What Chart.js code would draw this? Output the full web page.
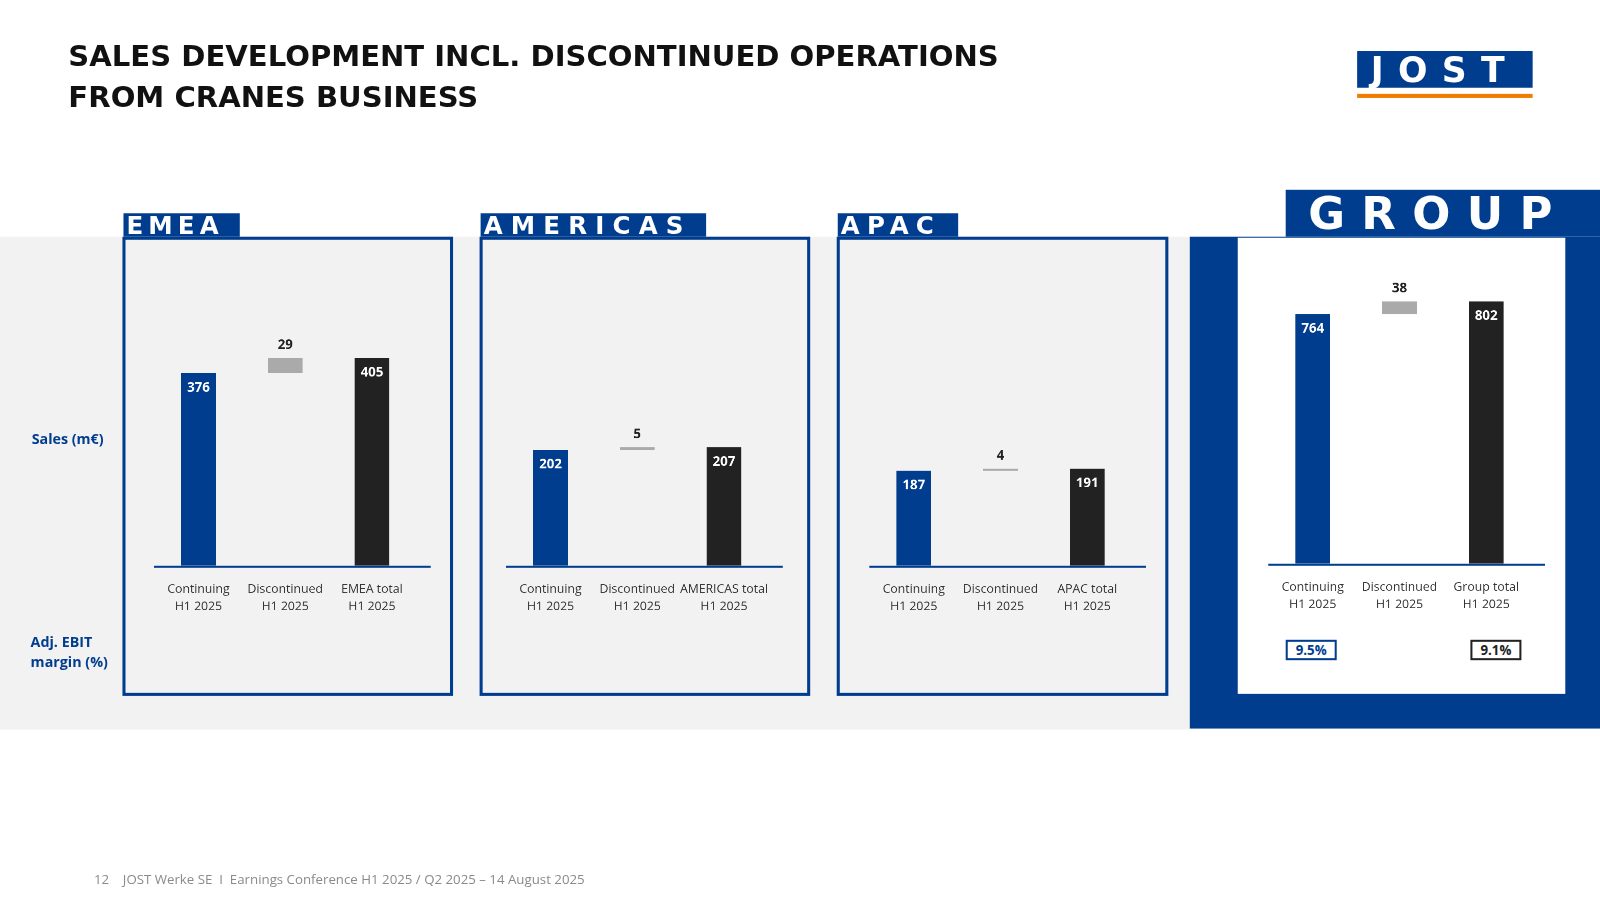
<!DOCTYPE html>
<html><head><meta charset="utf-8">
<script src="https://cdn.jsdelivr.net/npm/chart.js@4"></script>
<style>
body{margin:0;width:1600px;height:900px;background:#fff;font-family:"Open Sans",sans-serif;overflow:hidden}
#page{position:relative;width:1568px;height:882px;transform:scale(1.0204);transform-origin:0 0}
.abs{position:absolute}
h1{position:absolute;left:67px;top:36px;margin:0;font:bold 28.5px/40px "DejaVu Sans",sans-serif;color:#111}
.band{left:0;top:232px;width:1166px;height:483px;background:#f2f2f2}
.panel{border:3px solid #003d8f;background:#f2f2f2;box-sizing:border-box}
.hdr{background:#003d8f;color:#fff;font:900 24px/24px "DejaVu Sans",sans-serif;letter-spacing:5px;overflow:hidden;padding-left:3px;box-sizing:border-box}
.side{color:#003d8f;font:bold 14px/20px "Open Sans",sans-serif}
.ebit{font:bold 13px/16px "Open Sans",sans-serif;text-align:center;width:46px;height:16px;background:#fff}
</style></head><body><div id="page">
<h1>SALES DEVELOPMENT INCL. DISCONTINUED OPERATIONS<br>FROM CRANES BUSINESS</h1>
<div class="abs" style="left:1330px;top:50px;width:172px;height:36px;background:#003d8f;color:#fff;font:900 34px/36px 'DejaVu Sans';letter-spacing:14px;text-align:center">JOST</div>
<div class="abs" style="left:1330px;top:92px;width:172px;height:4px;background:#f07d00"></div>
<div class="abs band"></div>
<div class="abs" style="left:1166px;top:232px;width:402px;height:482px;background:#003d8f"></div>
<div class="abs" style="left:1213px;top:233px;width:321px;height:447px;background:#fff"></div>
<div class="abs hdr" style="left:121px;top:209px;width:114px;height:24px">EMEA</div>
<div class="abs hdr" style="left:471px;top:209px;width:221px;height:24px;letter-spacing:8px">AMERICAS</div>
<div class="abs hdr" style="left:821px;top:209px;width:118px;height:24px;letter-spacing:7px">APAC</div>
<div class="abs hdr" style="left:1260px;top:186px;width:308px;height:46px;font-size:44px;line-height:46px;padding-left:22px;letter-spacing:16px">GROUP</div>
<div class="abs panel" style="left:120px;top:232px;width:324px;height:450px"></div>
<div class="abs panel" style="left:470px;top:232px;width:324px;height:450px"></div>
<div class="abs panel" style="left:820px;top:232px;width:325px;height:450px"></div>
<div class="abs side" style="left:31px;top:420px">Sales (m€)</div>
<div class="abs side" style="left:30px;top:619px">Adj. EBIT<br>margin (%)</div>
<div class="abs ebit" style="left:1260px;top:627px;border:2px solid #003d8f;color:#003d8f">9.5%</div>
<div class="abs ebit" style="left:1441px;top:627px;border:2px solid #222;color:#222">9.1%</div>
<div class="abs" style="left:92px;top:852px;font:13px 'Open Sans';color:#8a8a8a">12&nbsp;&nbsp;&nbsp;&nbsp;JOST Werke SE&nbsp;&nbsp;I&nbsp;&nbsp;Earnings Conference H1 2025 / Q2 2025 – 14 August 2025</div>
<canvas id="c0" class="abs" style="left:130px;top:240px;width:300px;height:370px"></canvas>
<canvas id="c1" class="abs" style="left:475px;top:240px;width:300px;height:370px"></canvas>
<canvas id="c2" class="abs" style="left:831px;top:240px;width:300px;height:370px"></canvas>
<canvas id="c3" class="abs" style="left:1222px;top:240px;width:300px;height:368px"></canvas>
</div>
<script>
const regions = ["EMEA", "AMERICAS", "APAC", "Group"];
const continuing = [376, 202, 187, 764];
const discontinued = [29, 5, 4, 38];
const totals = [405, 207, 191, 802];
const scaleMax = [626, 560, 632, 975];

const labelPlugin = {
  id: "vals",
  afterDatasetsDraw(chart) {
    const ctx = chart.ctx;
    const meta = chart.getDatasetMeta(0);
    const raw = chart.data.datasets[0].data;
    const a = chart.chartArea;
    ctx.save();
    // axis line runs a bit past the last category
    ctx.strokeStyle = "#003d8f";
    ctx.lineWidth = 2;
    ctx.beginPath();
    ctx.moveTo(a.left - 1, a.bottom + 1);
    ctx.lineTo(a.right + 15, a.bottom + 1);
    ctx.stroke();
    ctx.font = "bold 13px 'Open Sans'";
    ctx.textAlign = "center";
    meta.data.forEach((bar, i) => {
      const v = raw[i];
      if (i === 1) {
        ctx.fillStyle = "#222";
        ctx.textBaseline = "bottom";
        ctx.fillText(v[1] - v[0], bar.x, bar.y - 6);
      } else {
        ctx.fillStyle = "#fff";
        ctx.textBaseline = "top";
        ctx.fillText(v, bar.x, bar.y + 8);
      }
    });
    ctx.restore();
  }
};

function createChart(i) {
  const tot = regions[i] + " total";
  new Chart(document.getElementById("c" + i), {
    type: "bar",
    data: {
      labels: [["Continuing", "H1 2025"], ["Discontinued", "H1 2025"], [tot, "H1 2025"]],
      datasets: [{
        data: [continuing[i], [continuing[i], continuing[i] + discontinued[i]], totals[i]],
        backgroundColor: ["#003d8f", "#aaaaaa", "#222222"],
        barPercentage: 0.4,
        categoryPercentage: 1
      }]
    },
    options: {
      responsive: false,
      animation: false,
      devicePixelRatio: 2,
      layout: { padding: { left: 22, right: 23 } },
      plugins: { legend: { display: false }, tooltip: { enabled: false } },
      scales: {
        x: {
          grid: { display: false },
          border: { display: false },
          ticks: { color: "#333", font: { family: "Open Sans", size: 12, lineHeight: 1.4 }, maxRotation: 0, autoSkip: false, padding: 7 }
        },
        y: { display: false, min: 0, max: scaleMax[i] }
      }
    },
    plugins: [labelPlugin]
  });
}
regions.forEach((r, i) => createChart(i));
</script>
</body></html>
